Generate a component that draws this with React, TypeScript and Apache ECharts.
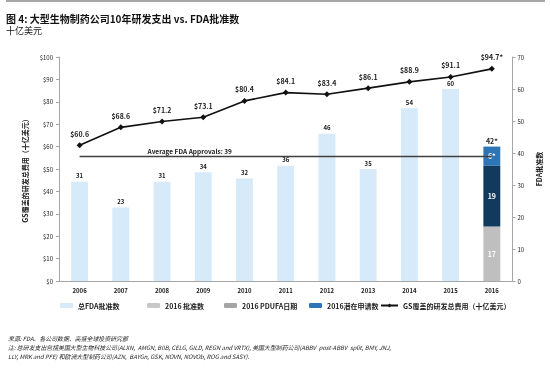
import React, { useEffect, useRef } from "react";
import * as echarts from "echarts";

const years = ["2006", "2007", "2008", "2009", "2010", "2011", "2012", "2013", "2014", "2015", "2016"];
const totalApprovals = [31, 23, 31, 34, 32, 36, 46, 35, 54, 60, null];
const approved2016 = [null, null, null, null, null, null, null, null, null, null, 17];
const pdufa2016 = [null, null, null, null, null, null, null, null, null, null, 19];
const potential2016 = [null, null, null, null, null, null, null, null, null, null, 6];
const rdSpend = [60.6, 68.6, 71.2, 73.1, 80.4, 84.1, 83.4, 86.1, 88.9, 91.1, 94.7];
const averageApprovals = 39;
const footnotes = [
  "来源: FDA、各公司数据、高盛全球投资研究部",
  "注: 总研发支出包括美国大型生物科技公司(ALXN,  AMGN, BIIB, CELG, GILD, REGN and VRTX), 美国大型制药公司(ABBV  post-ABBV  split, BMY, JNJ,",
  "LLY, MRK and PFE) 和欧洲大型制药公司(AZN,  BAYGn, GSK, NOVN, NOVOb, ROG and SASY).",
];

const S_TOTAL = "总FDA批准数";
const S_APPR = "2016 批准数";
const S_PDUFA = "2016 PDUFA日期";
const S_POT = "2016潜在申请数";
const S_LINE = "GS覆盖的研发总费用（十亿美元）";

const FONT = "'Noto Sans CJK SC', 'Open Sans', sans-serif";

export default function App() {
  const ref = useRef<HTMLDivElement>(null);
  useEffect(() => {
    if (!ref.current) return;
    const chart = echarts.init(ref.current, null, { renderer: "svg" });
    const legendBase = {
      top: 302,
      padding: 0,
      itemWidth: 13,
      itemHeight: 5,
      itemGap: 2,
      textStyle: { fontSize: 7, color: "#222", fontFamily: FONT, fontWeight: "bold" as const },
    };
    chart.setOption({
      animation: false,
      textStyle: { fontFamily: FONT },
      graphic: [
        { type: "rect", left: 6, top: 0, shape: { width: 539, height: 2 }, style: { fill: "#a6a6a6" } },
        {
          type: "text",
          left: 6,
          top: 13,
          style: { text: "图 4: 大型生物制药公司10年研发支出 vs. FDA批准数", fontSize: 10, fontWeight: "bold", fill: "#111", fontFamily: FONT },
        },
        {
          type: "text",
          left: 6,
          top: 26,
          style: { text: "十亿美元", fontSize: 9, fill: "#111", fontFamily: FONT },
        },
        ...footnotes.map((t, i) => ({
          type: "text",
          left: 8,
          top: 336 + i * 8.6,
          style: { text: t, fontSize: 5.9, fontStyle: "italic", fill: "#222", fontFamily: FONT },
        })),
      ],
      grid: { left: 59, right: 33, top: 57, bottom: 87 },
      legend: [
        { ...legendBase, left: 60, data: [S_TOTAL] },
        { ...legendBase, left: 147, data: [{ name: S_APPR, itemStyle: { color: "#c8c8c8" } }] },
        { ...legendBase, left: 224, data: [{ name: S_PDUFA, itemStyle: { color: "#a5a5a5" } }] },
        { ...legendBase, left: 309, data: [S_POT] },
        { ...legendBase, left: 380, itemWidth: 17, data: [S_LINE] },
      ],
      xAxis: {
        type: "category",
        data: years,
        axisLine: { lineStyle: { color: "#a6a6a6" } },
        axisTick: { lineStyle: { color: "#a6a6a6" }, length: 3 },
        axisLabel: { fontSize: 6, color: "#222", fontWeight: "bold", margin: 6 },
      },
      yAxis: [
        {
          type: "value",
          min: 0,
          max: 100,
          interval: 10,
          position: "left",
          name: S_LINE,
          nameLocation: "middle",
          nameRotate: 90,
          nameGap: 29,
          nameTextStyle: { fontSize: 7, fontWeight: "bold", color: "#222" },
          axisLine: { show: true, lineStyle: { color: "#a6a6a6" } },
          axisTick: { show: true, length: 3, lineStyle: { color: "#a6a6a6" } },
          splitLine: { show: false },
          axisLabel: { fontSize: 6, color: "#222", margin: 6, formatter: (v: number) => "$" + v },
        },
        {
          type: "value",
          min: 0,
          max: 70,
          interval: 10,
          position: "right",
          name: "FDA批准数",
          nameLocation: "middle",
          nameRotate: 90,
          nameGap: 20,
          nameTextStyle: { fontSize: 7, fontWeight: "bold", color: "#222" },
          axisLine: { show: true, lineStyle: { color: "#a6a6a6" } },
          axisTick: { show: true, length: 3, lineStyle: { color: "#a6a6a6" } },
          splitLine: { show: false },
          axisLabel: { fontSize: 6, color: "#222", margin: 5 },
        },
      ],
      series: [
        {
          name: S_TOTAL,
          type: "bar",
          yAxisIndex: 1,
          data: totalApprovals,
          barWidth: "41%",
          barGap: "-100%",
          itemStyle: { color: "#d7eafa" },
          label: { show: true, position: "top", fontSize: 6, color: "#222", fontWeight: "bold", distance: 3 },
          markLine: {
            symbol: "none",
            silent: true,
            lineStyle: { color: "#404040", width: 1.3, type: "solid" },
            label: {
              show: true,
              position: "insideStartTop",
              distance: [68, 2],
              formatter: "Average FDA Approvals: " + averageApprovals,
              fontSize: 6.5,
              fontWeight: "bold",
              color: "#222",
            },
            data: [[{ coord: [0, averageApprovals] }, { coord: [10, averageApprovals] }]],
          },
        },
        {
          name: S_APPR,
          type: "bar",
          yAxisIndex: 1,
          stack: "y2016",
          data: approved2016,
          barWidth: "41%",
          itemStyle: { color: "#bfbfbf" },
          label: { show: true, position: "inside", fontSize: 7, color: "#fff", fontWeight: "bold" },
        },
        {
          name: S_PDUFA,
          type: "bar",
          yAxisIndex: 1,
          stack: "y2016",
          data: pdufa2016,
          barWidth: "41%",
          itemStyle: { color: "#123a5c" },
          label: { show: true, position: "inside", fontSize: 7, color: "#fff", fontWeight: "bold" },
        },
        {
          name: S_POT,
          type: "bar",
          yAxisIndex: 1,
          stack: "y2016",
          data: potential2016,
          barWidth: "41%",
          itemStyle: { color: "#2e75b6" },
          label: {
            show: true,
            position: "inside",
            fontSize: 7,
            color: "#fff",
            fontWeight: "bold",
            formatter: (p: any) => p.value + "*",
          },
        },
        {
          name: "total2016",
          type: "bar",
          yAxisIndex: 1,
          stack: "y2016",
          data: [null, null, null, null, null, null, null, null, null, null, 0],
          barWidth: "41%",
          itemStyle: { color: "transparent" },
          label: {
            show: true,
            position: "top",
            fontSize: 7,
            color: "#222",
            fontWeight: "bold",
            distance: 2,
            formatter: () => String(17 + 19 + 6) + "*",
          },
        },
        {
          name: S_LINE,
          type: "line",
          yAxisIndex: 0,
          data: rdSpend,
          symbol: "diamond",
          symbolSize: 6,
          itemStyle: { color: "#111" },
          lineStyle: { color: "#111", width: 1.6 },
          z: 5,
          label: {
            show: true,
            position: "top",
            distance: 5,
            fontSize: 7,
            fontWeight: "bold",
            color: "#222",
            formatter: (p: any) => "$" + p.value + (p.dataIndex === rdSpend.length - 1 ? "*" : ""),
          },
        },
      ],
    });
    return () => chart.dispose();
  }, []);
  return <div ref={ref} style={{ position: "fixed", left: 0, top: 0, width: 550, height: 368 }} />;
}
